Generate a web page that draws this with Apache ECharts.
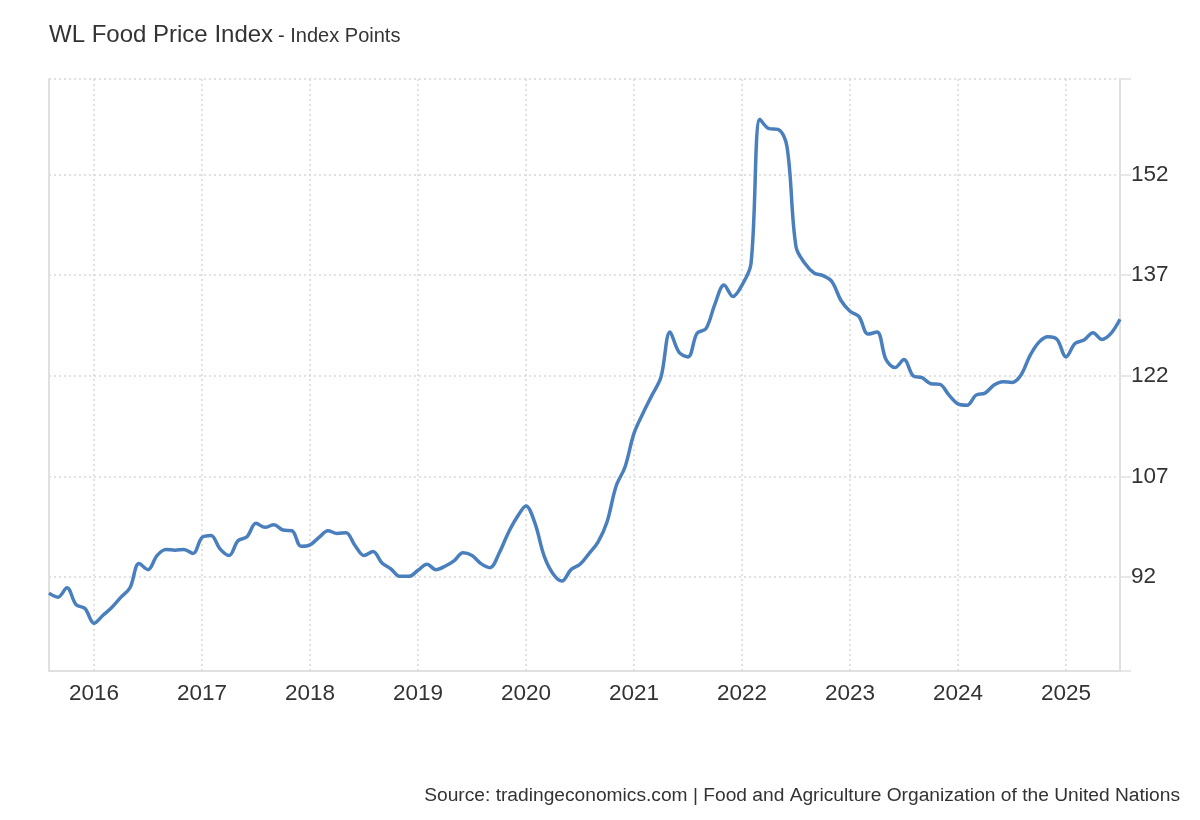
<!DOCTYPE html>
<html>
<head>
<meta charset="utf-8">
<script src="https://cdn.jsdelivr.net/npm/echarts@6/dist/echarts.min.js"></script>
<style>
html,body{margin:0;padding:0;background:#fff;}
#chart{width:1200px;height:820px;}
</style>
</head>
<body>
<div id="chart"></div>
<script>
const months = [
  '2015-08','2015-09','2015-10','2015-11','2015-12',
  '2016-01','2016-02','2016-03','2016-04','2016-05','2016-06','2016-07','2016-08','2016-09','2016-10','2016-11','2016-12',
  '2017-01','2017-02','2017-03','2017-04','2017-05','2017-06','2017-07','2017-08','2017-09','2017-10','2017-11','2017-12',
  '2018-01','2018-02','2018-03','2018-04','2018-05','2018-06','2018-07','2018-08','2018-09','2018-10','2018-11','2018-12',
  '2019-01','2019-02','2019-03','2019-04','2019-05','2019-06','2019-07','2019-08','2019-09','2019-10','2019-11','2019-12',
  '2020-01','2020-02','2020-03','2020-04','2020-05','2020-06','2020-07','2020-08','2020-09','2020-10','2020-11','2020-12',
  '2021-01','2021-02','2021-03','2021-04','2021-05','2021-06','2021-07','2021-08','2021-09','2021-10','2021-11','2021-12',
  '2022-01','2022-02','2022-03','2022-04','2022-05','2022-06','2022-07','2022-08','2022-09','2022-10','2022-11','2022-12',
  '2023-01','2023-02','2023-03','2023-04','2023-05','2023-06','2023-07','2023-08','2023-09','2023-10','2023-11','2023-12',
  '2024-01','2024-02','2024-03','2024-04','2024-05','2024-06','2024-07','2024-08','2024-09','2024-10','2024-11','2024-12',
  '2025-01','2025-02','2025-03','2025-04','2025-05','2025-06','2025-07'
];

const foodPriceIndex = [
  89.6, 89.0, 90.4, 87.9, 87.3,
  85.1, 86.3, 87.5, 89.0, 90.4, 94.0, 93.1, 95.2, 96.1, 96.0, 96.1, 95.5,
  97.9, 98.2, 96.2, 95.2, 97.4, 98.0, 100.0, 99.4, 99.8, 99.0, 98.9, 96.6,
  96.8, 97.9, 98.9, 98.5, 98.6, 96.7, 95.2, 95.8, 94.1, 93.2, 92.1, 92.1,
  93.0, 93.9, 93.1, 93.6, 94.4, 95.6, 95.2, 94.0, 93.4, 95.5, 98.5, 100.9,
  102.6, 100.0, 95.2, 92.5, 91.4, 93.1, 93.9, 95.5, 97.2, 100.2, 105.5, 108.4,
  113.4, 116.4, 119.1, 121.8, 128.5, 125.5, 124.8, 128.3, 129.0, 132.7, 135.5, 133.8,
  135.5, 138.7, 160.2, 158.8, 158.7, 156.1, 141.2, 138.7, 137.3, 136.9, 136.0, 133.2,
  131.6, 130.8, 128.2, 128.5, 124.4, 123.2, 124.4, 122.0, 121.7, 120.8, 120.7, 119.1,
  117.8, 117.6, 119.1, 119.4, 120.6, 121.1, 121.0, 122.1, 125.0, 127.0, 127.8, 127.4,
  124.8, 126.8, 127.3, 128.4, 127.4, 128.3, 130.4
];

const yTickValues = [92, 107, 122, 137, 152];
const yMin = 78;
const yMax = 166.2;

const FONT = "'Liberation Sans', Arial, sans-serif";
const isJanuary = (idx, val) => String(months[idx] || val).slice(5) === '01';

const chart = echarts.init(document.getElementById('chart'), null, {renderer: 'canvas'});
chart.setOption({
  backgroundColor: '#ffffff',
  animation: false,
  title: {
    left: 44,
    top: 18,
    text: '{a|WL Food Price Index} {b|- Index Points}',
    textStyle: {
      fontWeight: 'normal',
      fontFamily: FONT,
      rich: {
        a: {fontSize: 24, color: '#333333', fontFamily: FONT, fontWeight: 'normal', verticalAlign: 'bottom'},
        b: {fontSize: 20, color: '#333333', fontFamily: FONT, fontWeight: 'normal', verticalAlign: 'bottom', padding: [0, 0, 1, 0]}
      }
    }
  },
  graphic: [{
    type: 'text',
    right: 20,
    top: 786,
    style: {
      text: 'Source: tradingeconomics.com | Food and Agriculture Organization of the United Nations',
      fontSize: 19.2,
      fontFamily: FONT,
      fill: '#333333'
    }
  }],
  grid: {left: 49, right: 80, top: 79, bottom: 149, containLabel: false},
  xAxis: {
    type: 'category',
    data: months,
    boundaryGap: false,
    axisLine: {show: true, lineStyle: {color: '#e0e0e0', width: 2}},
    axisTick: {show: false},
    axisLabel: {
      interval: (idx, val) => isJanuary(idx, val),
      formatter: (val) => val.slice(0, 4),
      fontSize: 22.5,
      fontFamily: FONT,
      color: '#333333',
      margin: 11
    },
    splitLine: {
      show: true,
      interval: (idx, val) => isJanuary(idx, val),
      lineStyle: {color: '#d8d8d8', type: [2, 3], width: 1.5}
    }
  },
  yAxis: [{
    type: 'value',
    position: 'right',
    min: yMin,
    max: yMax,
    axisLine: {show: true, lineStyle: {color: '#e0e0e0', width: 2}},
    axisTick: {show: true, length: 11, lineStyle: {color: '#e0e0e0', width: 1.5}, customValues: [yMin].concat(yTickValues, [yMax])},
    axisLabel: {
      customValues: yTickValues,
      fontSize: 22.5,
      fontFamily: FONT,
      color: '#333333',
      margin: 11
    },
    splitLine: {show: true, lineStyle: {color: '#d8d8d8', type: [2, 3], width: 1.5}}
  }, {
    type: 'value',
    position: 'left',
    min: yMin,
    max: yMax,
    axisLine: {show: true, lineStyle: {color: '#e0e0e0', width: 2}},
    axisTick: {show: false},
    axisLabel: {show: false},
    splitLine: {show: false}
  }],
  series: [{
    type: 'line',
    data: foodPriceIndex,
    yAxisIndex: 0,
    smooth: 0.35,
    showSymbol: false,
    symbol: 'none',
    lineStyle: {color: '#4a7fbd', width: 3.5},
    itemStyle: {color: '#4a7fbd'}
  }]
});
</script>
</body>
</html>
